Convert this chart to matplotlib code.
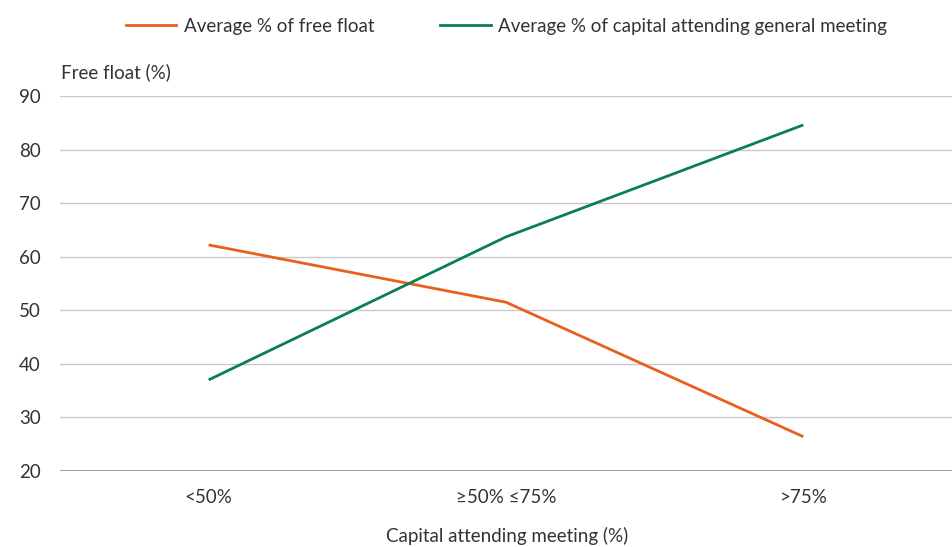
import matplotlib.pyplot as plt
from matplotlib.lines import Line2D

plt.rcParams['font.family'] = ['Lato', 'DejaVu Sans']

categories = ['<50%', '≥50% ≤75%', '>75%']
free_float = [62.2, 51.5, 26.4]
capital_attending = [37.0, 63.7, 84.6]
y_ticks = [20, 30, 40, 50, 60, 70, 80, 90]

orange = '#e8601c'
green = '#0a7f56'
text_col = '#333333'
fs = 13.5

fig = plt.figure(figsize=(9.52, 5.47), dpi=100)
ax = fig.add_axes([0.063, 0.139, 0.937, 0.6855])

x = range(len(categories))
ax.plot(x, free_float, color=orange, lw=2, solid_capstyle='butt')
ax.plot(x, capital_attending, color=green, lw=2, solid_capstyle='butt')

ax.set_xlim(-0.5, len(categories) - 0.5)
ax.set_ylim(20, 90)
ax.set_yticks(y_ticks)
ax.set_xticks(list(x))
ax.set_xticklabels(categories)
ax.tick_params(axis='both', length=0, labelsize=fs, colors=text_col)
ax.tick_params(axis='y', pad=14)
ax.tick_params(axis='x', pad=13)

for t in y_ticks[1:]:
    ax.axhline(t, color='#c8c8c8', lw=1, zorder=0)
ax.axhline(20, color='#808080', lw=1.8, zorder=0)

for s in ax.spines.values():
    s.set_visible(False)

# axis titles placed in figure coords
fig.text(0.533, 0.02, 'Capital attending meeting (%)', fontsize=fs, color=text_col,
         ha='center', va='center')
fig.text(0.064, 0.868, 'Free float (%)', fontsize=fs, color=text_col, ha='left', va='center')

handles = [Line2D([], [], color=orange, lw=2),
           Line2D([], [], color=green, lw=2)]
fig.legend(handles, ['Average % of free float', 'Average % of capital attending general meeting'],
           loc='center', bbox_to_anchor=(0.532, 0.952), ncol=2, frameon=False,
           fontsize=fs, handlelength=2.7, handletextpad=0.4, columnspacing=3.5,
           labelcolor=text_col)

fig.savefig('out.png', dpi=100)
